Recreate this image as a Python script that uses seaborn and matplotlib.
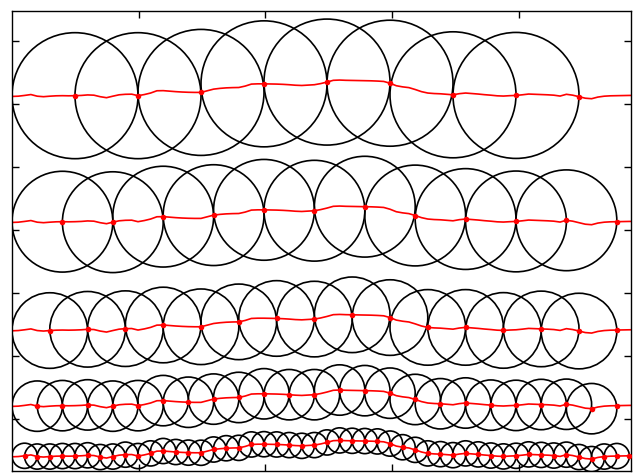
import numpy as np
import matplotlib.pyplot as plt
from matplotlib.patches import Circle
import seaborn as sns

sns.set_style('white')

# signal, every 0.5 units from 0 to 50
x = np.arange(0, 50.5, 0.5)
signal = np.array([
    0.00, 0.02, 0.08, 0.15, 0.02, -0.02, 0.02, 0.05, 0.06, 0.05,
    0.06, 0.08, 0.12, 0.10, -0.02, -0.10, 0.02, 0.13, 0.17, 0.18,
    0.06, 0.15, 0.27, 0.45, 0.46, 0.42, 0.38, 0.35, 0.33, 0.32,
    0.32, 0.45, 0.58, 0.64, 0.68, 0.70, 0.71, 0.82, 0.98, 1.00,
    1.00, 0.99, 0.98, 0.96, 0.93, 0.89, 0.87, 0.90, 0.93, 1.02,
    1.14, 1.28, 1.30, 1.28, 1.27, 1.26, 1.25, 1.24, 1.22, 1.19,
    1.05, 0.85, 0.76, 0.70, 0.55, 0.38, 0.27, 0.23, 0.21, 0.17,
    0.13, 0.22, 0.27, 0.23, 0.19, 0.14, 0.10, 0.05, 0.03, 0.06,
    0.08, 0.13, 0.19, 0.17, 0.15, 0.13, 0.10, 0.03, 0.17, 0.10,
    -0.02, -0.14, -0.18, -0.05, 0.02, 0.05, 0.06, 0.07, 0.08, 0.08,
    0.08,
])

# sample spacing (= circle radius) and vertical offset of each row
steps = [5, 4, 3, 2, 1]
offsets = [25.6, 15.6, 7.0, 1.0, -3.0]

fig = plt.figure(figsize=(6.34, 4.76), dpi=100)
ax = fig.add_axes([12 / 634, 5.5 / 476, 619 / 634, 459.5 / 476])

for step, off in zip(steps, offsets):
    sns.lineplot(x=x, y=signal + off, color='red', lw=1.2, ax=ax,
                 estimator=None, sort=False)
    cx = np.arange(step, 50, step)
    cy = signal[(cx * 2).astype(int)] + off
    # last sample of each row has no circle
    for a, b in zip(cx[:-1], cy[:-1]):
        ax.add_patch(Circle((a, b), step, fill=False, ec='black', lw=1.2))
    sns.scatterplot(x=cx, y=cy, color='red', s=16, marker='o',
                    linewidth=0, ax=ax, zorder=3)

ax.set_xlim(0, 619 / 12.6)
ax.set_ylim(-51.5 / 12.6, 408 / 12.6)
ax.set_xticks([10.05, 20.1, 30.15, 40.2])
ax.set_yticks([0, 5, 10, 15, 20, 25, 30])
ax.tick_params(direction='in', length=5, width=1, top=True, right=True,
               bottom=True, left=True, labelleft=False, labelbottom=False,
               color='black')
for sp in ax.spines.values():
    sp.set_color('black')
    sp.set_linewidth(1)

fig.savefig('out.png', dpi=100)
